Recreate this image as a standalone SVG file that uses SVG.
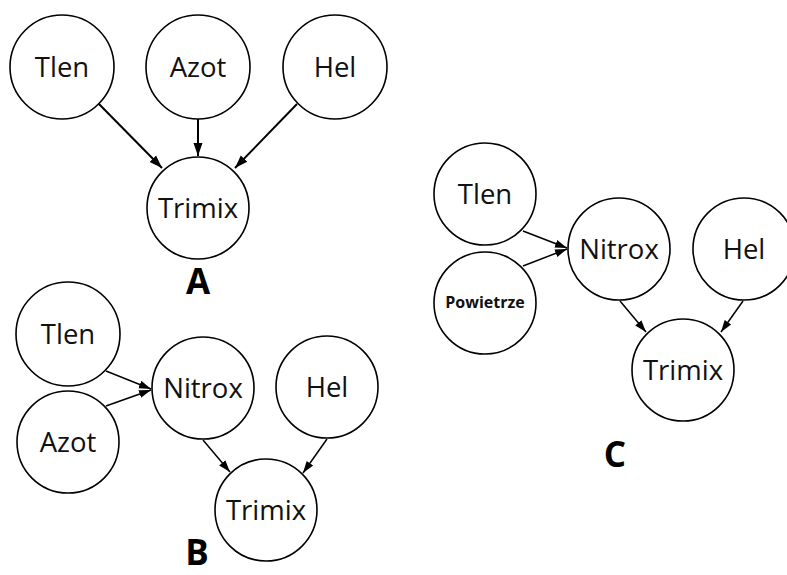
<svg xmlns="http://www.w3.org/2000/svg" width="787" height="575" viewBox="0 0 787 575">
<style>
.n{fill:#fff;stroke:#000;stroke-width:1.6}
.t{font-family:"Open Sans","Liberation Sans",sans-serif;font-size:27.5px;fill:#111;text-anchor:middle}
.s{font-family:"Open Sans","Liberation Sans",sans-serif;font-size:16px;font-weight:bold;fill:#111;text-anchor:middle}
.l{font-family:"Open Sans","Liberation Sans",sans-serif;font-size:35px;font-weight:bold;fill:#000;text-anchor:middle}
.a{stroke:#000;stroke-width:2;fill:none;marker-end:url(#ah)}
.b{stroke:#000;stroke-width:1.5;fill:none;marker-end:url(#ah2)}
</style>
<defs>
<marker id="ah" markerUnits="userSpaceOnUse" markerWidth="14" markerHeight="12" refX="13" refY="6" orient="auto"><path d="M0,1.5 L13,6 L0,10.5 Z" fill="#000"/></marker>
<marker id="ah2" markerUnits="userSpaceOnUse" markerWidth="14" markerHeight="12" refX="12" refY="6" orient="auto"><path d="M0,2 L12,6 L0,10 Z" fill="#000"/></marker>
</defs>
<rect width="787" height="575" fill="#fff"/>
<g id="connectors">
<line class="a" x1="98" y1="103" x2="162" y2="168"/>
<line class="a" x1="198" y1="119" x2="198" y2="156"/>
<line class="a" x1="297" y1="104" x2="235" y2="168"/>
<line class="b" x1="106" y1="371" x2="151" y2="389"/>
<line class="b" x1="106" y1="406" x2="151" y2="390"/>
<line class="b" x1="203" y1="440" x2="230" y2="472"/>
<line class="b" x1="327" y1="439" x2="303" y2="473"/>
<line class="b" x1="523" y1="231" x2="567" y2="248"/>
<line class="b" x1="523" y1="266" x2="567" y2="249"/>
<line class="b" x1="620" y1="301" x2="646" y2="332"/>
<line class="b" x1="743" y1="301" x2="721" y2="332"/>
</g>
<g id="a-tlen"><circle class="n" cx="62" cy="67" r="52"/><text class="t" x="62" y="77">Tlen</text></g>
<g id="a-azot"><circle class="n" cx="198" cy="67" r="52"/><text class="t" x="198" y="77">Azot</text></g>
<g id="a-hel"><circle class="n" cx="335" cy="67" r="52"/><text class="t" x="335" y="77">Hel</text></g>
<g id="a-trimix"><circle class="n" cx="198" cy="208" r="51"/><text class="t" x="198" y="218">Trimix</text></g>
<text class="l" x="198" y="294">A</text>
<g id="b-tlen"><circle class="n" cx="68" cy="334" r="52"/><text class="t" x="68" y="344">Tlen</text></g>
<g id="b-azot"><circle class="n" cx="68" cy="442" r="51"/><text class="t" x="68" y="452">Azot</text></g>
<g id="b-nitrox"><circle class="n" cx="203" cy="388" r="51"/><text class="t" x="203" y="398">Nitrox</text></g>
<g id="b-hel"><circle class="n" cx="327" cy="387" r="51"/><text class="t" x="327" y="397">Hel</text></g>
<g id="b-trimix"><circle class="n" cx="266" cy="510" r="51"/><text class="t" x="266" y="520">Trimix</text></g>
<text class="l" x="197" y="565">B</text>
<g id="c-tlen"><circle class="n" cx="485" cy="194" r="51"/><text class="t" x="485" y="204">Tlen</text></g>
<g id="c-powietrze"><circle class="n" cx="485" cy="303" r="51"/><text class="s" x="485" y="308">Powietrze</text></g>
<g id="c-nitrox"><circle class="n" cx="619" cy="249" r="51"/><text class="t" x="619" y="259">Nitrox</text></g>
<g id="c-hel"><circle class="n" cx="744" cy="249" r="51"/><text class="t" x="744" y="259">Hel</text></g>
<g id="c-trimix"><circle class="n" cx="683" cy="370" r="51"/><text class="t" x="683" y="380">Trimix</text></g>
<text class="l" x="615" y="467">C</text>
</svg>
